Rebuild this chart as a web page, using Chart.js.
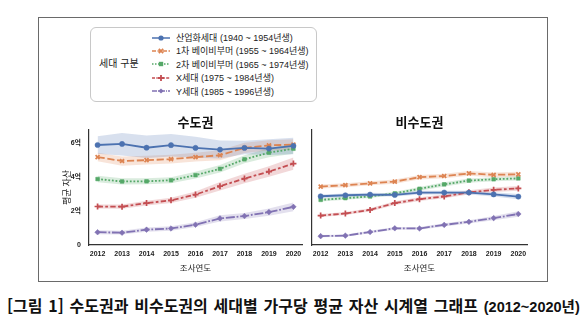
<!DOCTYPE html>
<html lang="ko">
<head>
<meta charset="utf-8">
<script src="https://cdn.jsdelivr.net/npm/chart.js@4.4.0/dist/chart.umd.min.js"></script>
<style>
  html, body { margin: 0; padding: 0; background: #fff; }
  body { width: 587px; height: 329px; position: relative; overflow: hidden;
         font-family: "Liberation Sans", "Noto Sans CJK KR", sans-serif; }
  #frame { position: absolute; left: 38px; top: 17px; width: 510px; height: 265px;
           border: 1px solid #6a6a6a; box-sizing: border-box; }
  #legend { position: absolute; left: 90px; top: 27px; width: 227px; height: 75px;
            border: 1px solid #c8c8c8; border-radius: 6px; box-sizing: border-box; }
  #legendTitle { position: absolute; left: 8px; top: 28px; font-size: 10px; color: #222;
                 font-family: "Noto Sans CJK KR", sans-serif; line-height: 14px; }
  .row { position: absolute; left: 61px; height: 13px; display: flex; align-items: center;
         font-size: 9px; color: #222; white-space: nowrap; font-family: "Liberation Sans", "Noto Sans CJK KR", sans-serif; }
  .row svg { margin-right: 6px; }
  canvas { position: absolute; }
  #caption { position: absolute; left: 7px; top: 294px; white-space: nowrap; color: #111;
             font-family: "Noto Sans CJK KR", sans-serif; font-weight: 700; font-size: 16px; line-height: 22px;
             word-spacing: 1.3px; }
  #caption .yr { font-family: "Liberation Sans Narrow", "Liberation Sans", "Noto Sans CJK KR", sans-serif; font-size: 14.5px; font-weight: 700; word-spacing: 0; }
</style>
</head>
<body>
<div id="frame"></div>
<div id="legend"><div id="legendTitle"></div></div>
<canvas id="cap" width="270" height="170" style="left:40px;top:110px;"></canvas>
<canvas id="noncap" width="235" height="170" style="left:300px;top:110px;"></canvas>
<div id="caption">[그림 1] 수도권과 비수도권의 세대별 가구당 평균 자산 시계열 그래프 <span class="yr">(2012~2020년)</span></div>
<script>
// ---------- data (억원) ----------
const years = [2012, 2013, 2014, 2015, 2016, 2017, 2018, 2019, 2020];
const generations = [
  '산업화세대 (1940 ~ 1954년생)',
  '1차 베이비부머 (1955 ~ 1964년생)',
  '2차 베이비부머 (1965 ~ 1974년생)',
  'X세대 (1975 ~ 1984년생)',
  'Y세대 (1985 ~ 1996년생)'
];
const legendTitle = '세대 구분';
const panelTitles = ['수도권', '비수도권'];
const xAxisTitle = '조사연도';
const yAxisTitle = '평균 자산';
const yTickValues = [0, 2, 4, 6];
const yTickLabels = ['0', '2억', '4억', '6억'];

// 수도권 (capital region) means and confidence bands
const capIndustrial   = [5.87, 5.93, 5.71, 5.86, 5.70, 5.60, 5.70, 5.66, 5.82];
const capIndustrialLo = [5.35, 5.25, 5.10, 5.20, 5.12, 5.08, 5.32, 5.28, 5.32];
const capIndustrialHi = [6.38, 6.58, 6.42, 6.52, 6.36, 6.14, 6.12, 6.20, 6.30];
const capBoomer1      = [5.16, 4.93, 4.98, 5.04, 5.16, 5.27, 5.70, 5.85, 5.89];
const capBoomer1Lo    = [4.92, 4.65, 4.72, 4.78, 4.90, 4.98, 5.40, 5.55, 5.58];
const capBoomer1Hi    = [5.42, 5.20, 5.24, 5.30, 5.42, 5.56, 6.00, 6.15, 6.20];
const capBoomer2      = [3.87, 3.73, 3.74, 3.80, 4.10, 4.47, 5.03, 5.42, 5.65];
const capBoomer2Lo    = [3.68, 3.55, 3.56, 3.62, 3.90, 4.25, 4.80, 5.15, 5.35];
const capBoomer2Hi    = [4.06, 3.92, 3.92, 3.98, 4.30, 4.70, 5.27, 5.68, 5.95];
const capX            = [2.26, 2.25, 2.46, 2.62, 2.96, 3.45, 3.90, 4.31, 4.78];
const capXLo          = [2.14, 2.13, 2.32, 2.46, 2.78, 3.20, 3.62, 4.00, 4.42];
const capXHi          = [2.38, 2.38, 2.60, 2.78, 3.14, 3.70, 4.18, 4.62, 5.14];
const capY            = [0.75, 0.72, 0.90, 0.97, 1.19, 1.56, 1.70, 1.93, 2.24];
const capYLo          = [0.63, 0.61, 0.78, 0.84, 1.05, 1.38, 1.52, 1.72, 1.98];
const capYHi          = [0.87, 0.84, 1.02, 1.10, 1.33, 1.74, 1.88, 2.14, 2.50];

// 비수도권 (non-capital region) means and confidence bands
const ncIndustrial    = [2.86, 2.92, 2.96, 2.94, 3.07, 3.08, 3.08, 2.97, 2.84];
const ncIndustrialLo  = [2.76, 2.82, 2.86, 2.84, 2.96, 2.97, 2.97, 2.85, 2.69];
const ncIndustrialHi  = [2.96, 3.02, 3.06, 3.04, 3.18, 3.19, 3.19, 3.09, 2.99];
const ncBoomer1       = [3.43, 3.51, 3.62, 3.72, 3.98, 4.05, 4.20, 4.12, 4.15];
const ncBoomer1Lo     = [3.31, 3.39, 3.50, 3.60, 3.85, 3.92, 4.06, 3.98, 4.00];
const ncBoomer1Hi     = [3.55, 3.63, 3.74, 3.84, 4.11, 4.18, 4.34, 4.26, 4.30];
const ncBoomer2       = [2.65, 2.75, 2.85, 3.03, 3.30, 3.56, 3.78, 3.86, 3.91];
const ncBoomer2Lo     = [2.56, 2.66, 2.76, 2.93, 3.19, 3.44, 3.66, 3.74, 3.79];
const ncBoomer2Hi     = [2.74, 2.84, 2.94, 3.13, 3.41, 3.68, 3.90, 3.98, 4.03];
const ncX             = [1.73, 1.85, 2.06, 2.46, 2.69, 2.85, 3.09, 3.24, 3.32];
const ncXLo           = [1.64, 1.76, 1.96, 2.35, 2.58, 2.74, 2.97, 3.11, 3.18];
const ncXHi           = [1.82, 1.94, 2.16, 2.57, 2.80, 2.96, 3.21, 3.37, 3.46];
const ncY             = [0.52, 0.55, 0.76, 0.98, 0.97, 1.18, 1.36, 1.58, 1.82];
const ncYLo           = [0.46, 0.49, 0.69, 0.90, 0.89, 1.09, 1.26, 1.46, 1.66];
const ncYHi           = [0.58, 0.61, 0.83, 1.06, 1.05, 1.27, 1.46, 1.70, 1.98];

// ---------- styling ----------
const colors = ['#4c72b0', '#dd8452', '#55a868', '#c44e52', '#8172b3'];
const fills  = ['rgba(76,114,176,0.22)', 'rgba(221,132,82,0.22)', 'rgba(85,168,104,0.22)', 'rgba(196,78,82,0.22)', 'rgba(129,114,179,0.22)'];
const dashes = [[], [7.2, 2.7], [1.8, 1.8], [5.4, 2.3, 2.7, 2.3], [9, 1.8, 1.8, 1.8]];
const svgDash = ['', '4 1.5', '1.5 1.5', '3 1.3 1.5 1.3', '5 1 1 1'];
const pointStyles = ['circle', 'crossRot', 'rect', 'cross', 'rectRot'];
const pointRadii = [2.6, 2.8, 2.6, 3.0, 2.8];

const FONT = '"Liberation Sans", "Noto Sans CJK KR", sans-serif';
const KFONT = '"Noto Sans CJK KR", "Liberation Sans", sans-serif';

// ---------- legend (HTML) ----------
document.getElementById('legendTitle').textContent = legendTitle;
const legendEl = document.getElementById('legend');
const markerSvg = (i, c) => {
  switch (i) {
    case 0: return `<circle cx="9" cy="5" r="2.6" fill="${c}"/>`;
    case 1: return `<path d="M6.8 2.8 L11.2 7.2 M11.2 2.8 L6.8 7.2" stroke="${c}" stroke-width="1.8"/>`;
    case 2: return `<rect x="6.8" y="2.8" width="4.4" height="4.4" fill="${c}"/>`;
    case 3: return `<path d="M9 2 L9 8 M6 5 L12 5" stroke="${c}" stroke-width="1.8"/>`;
    default: return `<path d="M9 2.4 L11.6 5 L9 7.6 L6.4 5 Z" fill="${c}"/>`;
  }
};
generations.forEach((g, i) => {
  const row = document.createElement('div');
  row.className = 'row';
  row.style.top = (3 + i * 13.4) + 'px';
  row.innerHTML = `<svg width="18" height="10" viewBox="0 0 18 10"><line x1="0" y1="5" x2="18" y2="5" stroke="${colors[i]}" stroke-width="1.5" stroke-dasharray="${svgDash[i]}"/>${markerSvg(i, colors[i])}</svg><span></span>`;
  row.querySelector('span').textContent = g;
  legendEl.appendChild(row);
});

// ---------- charts ----------
const panelTitle = {
  id: 'panelTitle',
  afterDraw(chart, args, opts) {
    const { ctx, chartArea } = chart;
    ctx.save();
    ctx.font = 'bold 13px ' + KFONT;
    ctx.fillStyle = '#111';
    ctx.textAlign = 'center';
    ctx.textBaseline = 'middle';
    ctx.fillText(opts.text, (chartArea.left + chartArea.right) / 2, chartArea.top - 8);
    ctx.restore();
  }
};

function buildDatasets(means, los, his) {
  const ds = [];
  means.forEach((m, i) => {
    ds.push({ data: years.map((x, k) => ({ x, y: his[i][k] })), borderColor: 'rgba(0,0,0,0)', borderWidth: 0,
              pointRadius: 0, fill: false, order: 20 });
    ds.push({ data: years.map((x, k) => ({ x, y: los[i][k] })), borderColor: 'rgba(0,0,0,0)', borderWidth: 0,
              pointRadius: 0, fill: '-1', backgroundColor: fills[i], order: 20 });
  });
  means.forEach((m, i) => {
    ds.push({ data: years.map((x, k) => ({ x, y: m[k] })), borderColor: colors[i], borderWidth: 1.8,
              borderDash: dashes[i], tension: 0, fill: false, order: 1 + i,
              pointStyle: pointStyles[i], pointRadius: pointRadii[i],
              pointBackgroundColor: colors[i], pointBorderColor: colors[i],
              pointBorderWidth: (i === 1 || i === 3) ? 1.7 : 0.5 });
  });
  return ds;
}

function makePanel(id, title, means, los, his, showYLabels) {
  new Chart(document.getElementById(id), {
    type: 'line',
    data: { datasets: buildDatasets(means, los, his) },
    plugins: [panelTitle],
    options: {
      responsive: false, animation: false, devicePixelRatio: 1,
      layout: { padding: { top: 20, right: 8, left: 0, bottom: 0 } },
      plugins: { legend: { display: false }, tooltip: { enabled: false }, panelTitle: { text: title } },
      scales: {
        x: {
          type: 'linear', min: 2011.65, max: 2020.35,
          grid: { display: false, drawTicks: false },
          border: { display: true, color: '#333', width: 1.2 },
          afterBuildTicks: s => { s.ticks = years.map(v => ({ value: v })); },
          afterFit: s => { s.height = 35; },
          ticks: { autoSkip: false, maxRotation: 0, padding: 5, color: '#222',
                   font: { family: FONT, size: 7, weight: 'bold' }, callback: v => String(v) },
          title: { display: true, text: xAxisTitle, color: '#222', padding: { top: 0, bottom: 7 },
                   font: { family: KFONT, size: 8.5 } }
        },
        y: {
          min: 0, max: 6.75,
          grid: { display: false, drawTicks: false },
          border: { display: true, color: '#333', width: 1.2 },
          afterBuildTicks: s => { s.ticks = yTickValues.map(v => ({ value: v })); },
          afterFit: s => { s.width = showYLabels ? 49 : 12; },
          ticks: { display: showYLabels, padding: 8, color: '#222',
                   font: { family: FONT, size: 7, weight: 'bold' },
                   callback: v => yTickLabels[yTickValues.indexOf(v)] },
          title: { display: showYLabels, text: yAxisTitle, color: '#222', padding: { top: 21, bottom: 0 },
                   font: { family: KFONT, size: 9 } }
        }
      }
    }
  });
}

makePanel('cap', panelTitles[0],
  [capIndustrial, capBoomer1, capBoomer2, capX, capY],
  [capIndustrialLo, capBoomer1Lo, capBoomer2Lo, capXLo, capYLo],
  [capIndustrialHi, capBoomer1Hi, capBoomer2Hi, capXHi, capYHi], true);
makePanel('noncap', panelTitles[1],
  [ncIndustrial, ncBoomer1, ncBoomer2, ncX, ncY],
  [ncIndustrialLo, ncBoomer1Lo, ncBoomer2Lo, ncXLo, ncYLo],
  [ncIndustrialHi, ncBoomer1Hi, ncBoomer2Hi, ncXHi, ncYHi], false);
</script>
</body>
</html>
